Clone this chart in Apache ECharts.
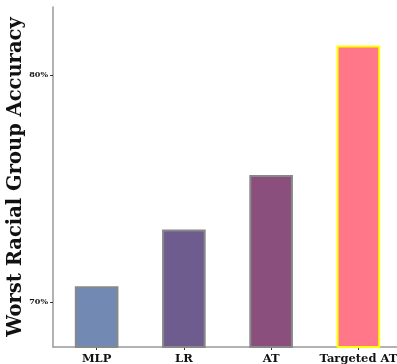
<!DOCTYPE html>
<html><head><meta charset="utf-8">
<script src="https://cdn.jsdelivr.net/npm/echarts@6/dist/echarts.min.js"></script>
<style>html,body{margin:0;padding:0;background:#fff}#c{width:397px;height:364px}</style>
</head><body><div id="c"></div>
<script>
const categories = ['MLP', 'LR', 'AT', 'Targeted AT'];
const values = [70.7, 73.2, 75.6, 81.3];
const colors = ['#7189b3', '#6e5c8e', '#8b4f7e', '#ff7788'];
const borders = ['#888888', '#888888', '#888888', '#ffff00'];
const yTicks = [70, 80];

const chart = echarts.init(document.getElementById('c'), null, {renderer: 'canvas'});
const font = '"DejaVu Serif", serif';
chart.setOption({
  animation: false,
  grid: {left: 53, right: -5, top: 7, bottom: 17, containLabel: false, outerBoundsMode: 'none'},
  xAxis: {
    type: 'category', data: categories,
    axisLine: {lineStyle: {color: '#999', width: 1.5}},
    axisTick: {show: true, alignWithLabel: true, length: 3, lineStyle: {color: '#333'}},
    axisLabel: {interval: 0, hideOverlap: false, fontFamily: font, fontWeight: 'bold', fontSize: 11.5, color: '#111', margin: 6}
  },
  yAxis: {
    type: 'value', min: 68.02, max: 83.0,
    name: 'Worst Racial Group Accuracy', nameLocation: 'middle', nameGap: 27, nameMoveOverlap: false,
    nameTextStyle: {fontFamily: font, fontWeight: 'bold', fontSize: 19.5, color: '#111'},
    splitLine: {show: false},
    axisLine: {show: true, lineStyle: {color: '#999', width: 1.5}},
    axisTick: {show: true, length: 3, lineStyle: {color: '#333'},
      customValues: yTicks},
    axisLabel: {fontFamily: font, fontWeight: 'bold', fontSize: 8, color: '#111', margin: 5,
      customValues: yTicks, formatter: v => v + '%'}
  },
  series: [{
    type: 'bar', barWidth: '50%',
    data: values.map((v, i) => ({value: v, itemStyle: {color: colors[i], borderColor: borders[i], borderWidth: 2}}))
  }]
});
</script></body></html>
